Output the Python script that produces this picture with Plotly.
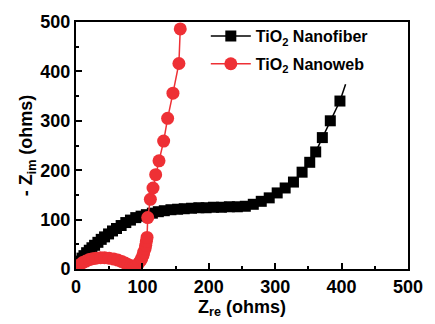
import plotly.graph_objects as go

# TiO2 Nanofiber (black squares)
fiber_x = [3, 6, 9, 12, 16, 20, 24, 28, 33, 38, 43, 49, 55, 61, 68, 75, 82, 90, 98, 106,
           115, 124, 133, 143, 153, 163, 174, 185, 196, 207, 219, 231, 243, 255, 267, 279,
           291, 303, 315, 327.5, 340.5, 352, 361, 371, 383, 397.5]
fiber_y = [10, 16, 22, 27, 33, 38, 43, 48, 54, 60, 65, 71, 77, 82, 88, 94, 99, 104, 107, 110,
           113, 116, 118, 120, 121, 122, 123, 124, 124, 125, 125, 126, 126, 127, 131, 137,
           144, 154, 164, 176, 196, 216, 237, 266, 300, 340]
# line continuation beyond the last marker
fiber_tail_x = [397.5, 406]
fiber_tail_y = [340, 374]

# TiO2 Nanoweb (red circles)
web_x = [2, 5, 10, 15, 20, 25, 30, 37, 43, 50, 57, 63, 69, 74, 78, 82, 86, 89, 92, 95,
         98, 99, 101, 102, 104, 105, 106, 107, 108, 112, 116, 120, 125, 132, 138, 146, 155, 157]
web_y = [4, 8, 13, 16, 19, 21, 22, 23, 23, 22, 20, 18, 15, 12, 9, 7, 5, 5, 8, 13,
         18, 22, 28, 34, 41, 48, 56, 64, 104, 141, 164, 191, 219, 259, 305, 356, 416, 486]

x_ticks = [0, 100, 200, 300, 400, 500]
y_ticks = [0, 100, 200, 300, 400, 500]

BLACK = "#000000"
RED = "#EE3035"
FONT = "Liberation Sans, Arial, sans-serif"

fig = go.Figure()
fig.add_trace(go.Scatter(x=fiber_tail_x, y=fiber_tail_y, mode="lines",
                         line=dict(color=BLACK, width=1.5), showlegend=False,
                         hoverinfo="skip"))
fig.add_trace(go.Scatter(x=fiber_x, y=fiber_y, mode="lines+markers",
                         name="TiO<sub>2</sub> Nanofiber", legendgroup="a",
                         line=dict(color=BLACK, width=1.5),
                         marker=dict(symbol="square", size=11, color=BLACK)))
fig.add_trace(go.Scatter(x=web_x, y=web_y, mode="lines+markers",
                         name="TiO<sub>2</sub> Nanoweb", legendgroup="b",
                         line=dict(color=RED, width=1.5),
                         marker=dict(symbol="circle", size=13, color=RED)))

axis_common = dict(
    showgrid=False, zeroline=False, showline=True, linecolor=BLACK, linewidth=2,
    mirror=True, ticks="inside", ticklen=6, tickwidth=1.5, tickcolor=BLACK,
    minor=dict(ticks="inside", ticklen=3, tickwidth=1.5, tickcolor=BLACK, dtick=50),
    tickfont=dict(family=FONT, size=18, color=BLACK, weight="bold"),
    ticklabeloverflow="allow",
)

fig.update_xaxes(range=[0, 500], tickvals=x_ticks, ticktext=[str(v) for v in x_ticks],
                 title=dict(text="<b>Z<sub>re</sub> (ohms)</b>",
                            font=dict(family=FONT, size=18, color=BLACK), standoff=3),
                 **axis_common)
fig.update_yaxes(range=[0, 500], tickvals=y_ticks, ticktext=[str(v) for v in y_ticks],
                 title=dict(text="<b>- Z<sub>im</sub> (ohms)</b>",
                            font=dict(family=FONT, size=18, color=BLACK), standoff=3),
                 **axis_common)

fig.update_layout(
    width=435, height=324,
    margin=dict(l=76, r=15, t=22, b=52),
    paper_bgcolor="white", plot_bgcolor="white",
    legend=dict(x=0.391, y=1.012, xanchor="left", yanchor="top",
                bgcolor="rgba(0,0,0,0)", borderwidth=0,
                font=dict(family=FONT, size=16, color=BLACK, weight="bold"),
                tracegroupgap=4, itemsizing="trace", itemwidth=40),
    showlegend=True,
)

fig.write_html("out.html")
